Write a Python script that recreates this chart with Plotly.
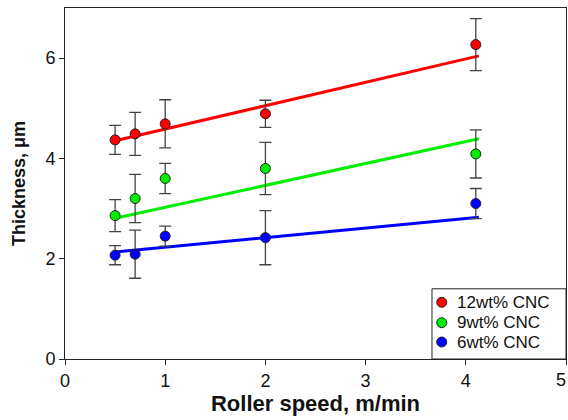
import numpy as np
import plotly.graph_objects as go

# ---- data ----
speed = [0.5, 0.7, 1.0, 2.0, 4.1]

series_names = ["12wt% CNC", "9wt% CNC", "6wt% CNC"]
series_colors = ["#ff0000", "#00ee00", "#0000ff"]

thick_12 = [4.37, 4.49, 4.69, 4.89, 6.27]
err_12 = [0.29, 0.43, 0.48, 0.27, 0.52]

thick_9 = [2.86, 3.20, 3.60, 3.80, 4.09]
err_9 = [0.32, 0.48, 0.30, 0.52, 0.48]

thick_6 = [2.07, 2.09, 2.45, 2.42, 3.10]
err_6 = [0.19, 0.48, 0.20, 0.54, 0.30]

# linear fit lines (intercept, slope) as drawn in the reference
fit_intercept = [4.12, 2.59, 2.04]
fit_slope = [0.466, 0.436, 0.19]
fit_x_range = [0.5, 4.13]

x_ticks = [0, 1, 2, 3, 4, 5]
y_ticks = [0, 2, 4, 6]

values = [thick_12, thick_9, thick_6]
errors = [err_12, err_9, err_6]

FONT = "Arial, Liberation Sans, sans-serif"
INK = "#111111"

fig = go.Figure()

# fit lines first (under markers)
for name, col, a, b in zip(series_names, series_colors, fit_intercept, fit_slope):
    xf = np.array(fit_x_range)
    fig.add_trace(go.Scatter(
        x=xf, y=a + b * xf, mode="lines",
        line=dict(color=col, width=3), showlegend=False, hoverinfo="skip"))

for name, col, y, e in zip(series_names, series_colors, values, errors):
    fig.add_trace(go.Scatter(
        x=speed, y=y, mode="markers", name=name, showlegend=False,
        marker=dict(color=col, size=10, line=dict(color="#222222", width=1)),
        error_y=dict(type="data", array=e, visible=True,
                     color="#444444", thickness=1.3, width=6)))

axis_common = dict(
    showline=True, linecolor="#222222", linewidth=1, mirror=True,
    ticks="outside", ticklen=5, tickcolor="#222222",
    showgrid=False, zeroline=False,
    tickfont=dict(family=FONT, size=18, color=INK),
)

# ---- legend box drawn in the lower-right corner of the plot ----
leg_x0, leg_x1, leg_y0, leg_y1 = 0.7325, 1.0, 0.0, 0.2
leg_marker_x = 0.752
leg_text_x = 0.778
leg_rows_y = [0.1615, 0.1034, 0.0484]

shapes = [dict(type="rect", xref="paper", yref="paper",
               x0=leg_x0, x1=leg_x1, y0=leg_y0, y1=leg_y1,
               line=dict(color="#222222", width=1), fillcolor="white",
               layer="above")]
annotations = []
for name, col, ry in zip(series_names, series_colors, leg_rows_y):
    shapes.append(dict(type="circle", xref="paper", yref="paper",
                       xsizemode="pixel", ysizemode="pixel",
                       xanchor=leg_marker_x, yanchor=ry,
                       x0=-5, x1=5, y0=-5, y1=5,
                       fillcolor=col, line=dict(color="#222222", width=1),
                       layer="above"))
    annotations.append(dict(xref="paper", yref="paper", x=leg_text_x, y=ry,
                            xanchor="left", yanchor="middle", showarrow=False,
                            text=name, font=dict(family=FONT, size=17, color=INK)))

# the last x tick label ("5") sits at the page edge
annotations.append(dict(xref="x", yref="paper", x=x_ticks[-1], y=0,
                        xanchor="center", yanchor="top", yshift=-9, xshift=-5,
                        showarrow=False, text=str(x_ticks[-1]),
                        font=dict(family=FONT, size=18, color=INK)))

fig.update_layout(
    width=568, height=420,
    margin=dict(l=65, r=2, t=8, b=61),
    plot_bgcolor="white", paper_bgcolor="white",
    showlegend=False,
    shapes=shapes,
    annotations=annotations,
    xaxis=dict(range=[0, 5], tickvals=x_ticks,
               title=dict(text="<b>Roller speed, m/min</b>", standoff=6,
                          font=dict(family=FONT, size=22, color=INK)),
               **axis_common),
    yaxis=dict(range=[0, 7], tickvals=y_ticks,
               title=dict(text="<b>Thickness, μm</b>", standoff=15,
                          font=dict(family=FONT, size=18, color=INK)),
               **axis_common),
)

fig.write_html("out.html")
